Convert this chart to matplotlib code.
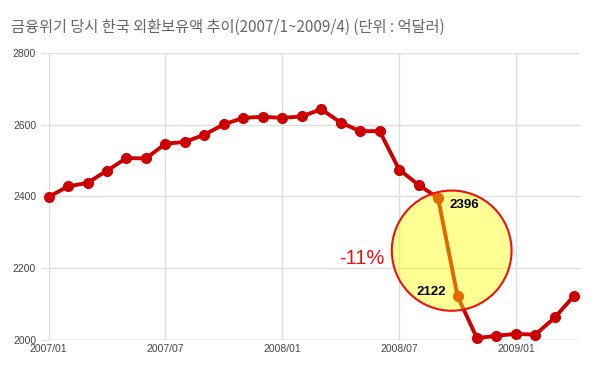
import matplotlib.pyplot as plt
from matplotlib.patches import Ellipse
import numpy as np

plt.rcParams['font.family'] = ['Liberation Sans', 'DejaVu Sans']

# monthly foreign reserves, 2007/01 ~ 2009/04 (unit: 100 million USD)
months = ['2007/01', '2007/02', '2007/03', '2007/04', '2007/05', '2007/06',
          '2007/07', '2007/08', '2007/09', '2007/10', '2007/11', '2007/12',
          '2008/01', '2008/02', '2008/03', '2008/04', '2008/05', '2008/06',
          '2008/07', '2008/08', '2008/09', '2008/10', '2008/11', '2008/12',
          '2009/01', '2009/02', '2009/03', '2009/04']
reserves = [2399, 2428, 2438, 2472, 2507, 2506,
            2547, 2552, 2572, 2601, 2619, 2622,
            2619, 2623, 2643, 2606, 2582, 2582,
            2475, 2432, 2396, 2122, 2005, 2012,
            2017, 2015, 2063, 2124]
tick_labels = ['2007/01', '2007/07', '2008/01', '2008/07', '2009/01']
y_ticks = [2000, 2200, 2400, 2600, 2800]
crash = ('2008/09', '2008/10')

red = '#cc0000'
grid = '#dddddd'

fig = plt.figure(figsize=(6, 3.65), dpi=100)
ax = fig.add_axes([0.081, 0.0685, 0.886, 0.7865])

x = np.arange(len(months))
ax.plot(x, reserves, color=red, lw=2.8, marker='o', markersize=7,
        clip_on=False, zorder=3)

ax.set_xlim(0, 27.3)
ax.set_ylim(2000, 2800)
ax.set_yticks(y_ticks)
ax.set_xticks([months.index(t) for t in tick_labels])
ax.set_xticklabels(tick_labels)
ax.grid(True, color=grid, lw=1)
ax.set_axisbelow(True)
for s in ax.spines.values():
    s.set_visible(False)
ax.axhline(2000, color='#cccccc', lw=1, zorder=1)
ax.tick_params(axis='y', length=6, color=grid, labelsize=7.5, labelcolor='#444444', pad=3)
ax.tick_params(axis='x', length=0, labelsize=7.5, labelcolor='#444444', pad=3)

# highlight the crash month
i0, i1 = months.index(crash[0]), months.index(crash[1])
v0, v1 = reserves[i0], reserves[i1]
cx = (i0 + i1) / 2 + 0.2
cy = (v0 + v1) / 2 - 10
ax.add_patch(Ellipse((cx, cy), width=6.15, height=335, facecolor=(1, 1, 0, 0.42),
                     edgecolor='#ee1111', lw=1.5, zorder=4))

ax.annotate(str(v0), (i0, v0), xytext=(8, -5), textcoords='offset points',
            ha='left', va='center', fontsize=9.5, fontweight='bold', zorder=5)
ax.annotate(str(v1), (i1, v1), xytext=(-8, 3), textcoords='offset points',
            ha='right', va='center', fontsize=9.5, fontweight='bold', zorder=5)
pct = round((v1 - v0) / v0 * 100)
ax.annotate(f'{pct}%', (cx, cy), xytext=(-65, -6), textcoords='offset points',
            ha='center', va='center', fontsize=14.5, color='#ee1111', zorder=5)

fig.text(0.018, 0.925, '금융위기 당시 한국 외환보유액 추이(2007/1~2009/4) (단위 : 억달러)',
         fontsize=11, color='#666666', va='center',
         family=['Noto Sans CJK KR', 'DejaVu Sans'])

fig.savefig('out.png', dpi=100)
